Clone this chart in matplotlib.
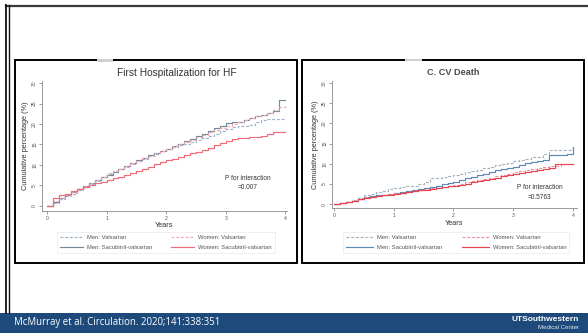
import numpy as np
import matplotlib
matplotlib.use("Agg")
import matplotlib.pyplot as plt
from matplotlib.patches import Rectangle
from matplotlib.lines import Line2D

W, H = 588, 333

# ---------------- data ----------------
years = [0.0, 0.1, 0.2, 0.3, 0.4, 0.5, 0.6, 0.7, 0.8, 0.9, 1.0,
         1.1, 1.2, 1.3, 1.4, 1.5, 1.6, 1.7, 1.8, 1.9, 2.0,
         2.1, 2.2, 2.3, 2.4, 2.5, 2.6, 2.7, 2.8, 2.9, 3.0,
         3.1, 3.2, 3.3, 3.4, 3.5, 3.6, 3.7, 3.8, 3.9, 4.0]

series_labels = ["Men: Valsartan", "Men: Sacubitril-valsartan",
                 "Women: Valsartan", "Women: Sacubitril-valsartan"]

hf_men_val = [0, 0.8, 1.6, 2.4, 3.0, 3.8, 4.6, 5.4, 6.1, 7.0, 7.8,
              8.4, 9.0, 9.6, 10.2, 10.9, 11.5, 12.1, 12.7, 13.3, 13.8,
              14.3, 14.8, 15.2, 15.6, 16.0, 16.5, 17.0, 17.6, 18.2, 18.8,
              19.3, 19.4, 19.5, 19.8, 20.4, 21.0, 21.2, 21.2, 21.2, 21.2]
hf_men_sv = [0, 0.9, 1.8, 2.6, 3.4, 4.1, 4.8, 5.5, 6.3, 7.0, 7.6,
             8.3, 9.0, 9.7, 10.4, 11.1, 11.7, 12.3, 12.8, 13.4, 14.0,
             14.6, 15.2, 15.8, 16.4, 17.0, 17.6, 18.2, 18.9, 19.6, 20.2,
             20.4, 20.5, 21.0, 21.5, 22.0, 22.3, 22.6, 23.2, 25.8, 25.8]
hf_women_val = [0, 1.2, 2.0, 2.7, 3.4, 4.1, 4.8, 5.5, 6.3, 7.0, 7.9,
                8.5, 9.1, 9.7, 10.4, 11.0, 11.6, 12.2, 12.8, 13.4, 13.9,
                14.5, 15.0, 15.6, 16.2, 16.8, 17.4, 18.0, 18.6, 19.1, 19.5,
                20.0, 20.6, 21.0, 21.4, 21.9, 22.3, 22.8, 23.5, 24.2, 24.6]
hf_women_sv = [0, 1.8, 2.6, 3.0, 3.5, 4.1, 4.6, 5.1, 5.5, 5.9, 6.3,
               6.7, 7.1, 7.5, 7.9, 8.4, 9.0, 9.6, 10.2, 10.7, 11.1,
               11.5, 11.9, 12.4, 12.8, 13.2, 13.7, 14.2, 14.8, 15.4, 15.9,
               16.3, 16.5, 16.6, 16.7, 16.9, 17.1, 17.6, 18.0, 18.0, 18.0]

cv_men_val = [0, 0.3, 0.6, 1.0, 1.5, 2.2, 2.6, 3.0, 3.4, 3.7, 4.0,
              4.2, 4.4, 4.6, 5.0, 5.5, 6.4, 6.5, 6.7, 7.0, 7.3,
              7.6, 7.9, 8.2, 8.5, 8.9, 9.2, 9.6, 9.9, 10.3, 10.6,
              11.0, 11.3, 11.6, 11.8, 12.5, 13.5, 13.5, 13.5, 13.5, 14.5]
cv_men_sv = [0, 0.3, 0.6, 0.9, 1.3, 1.7, 2.0, 2.2, 2.4, 2.6, 2.8,
             3.0, 3.3, 3.5, 3.7, 4.0, 4.3, 4.6, 5.0, 5.3, 5.6,
             6.0, 6.4, 6.8, 7.2, 7.6, 8.0, 8.4, 8.7, 9.0, 9.3,
             9.7, 10.1, 10.4, 10.7, 11.0, 12.2, 12.2, 12.3, 12.4, 14.1]
cv_women_val = [0, 0.3, 0.6, 0.9, 1.3, 1.7, 1.9, 2.1, 2.3, 2.5, 2.7,
                2.9, 3.1, 3.3, 3.5, 3.7, 3.9, 4.1, 4.3, 4.5, 4.8,
                5.1, 5.4, 5.7, 6.0, 6.2, 6.6, 6.9, 7.2, 7.6, 7.9,
                8.2, 8.5, 8.8, 9.0, 9.2, 9.4, 9.5, 9.9, 9.9, 9.9]
cv_women_sv = [0, 0.3, 0.6, 0.9, 1.2, 1.6, 1.8, 2.0, 2.2, 2.4, 2.5,
               2.8, 3.1, 3.3, 3.5, 3.6, 3.8, 4.0, 4.2, 4.4, 4.5,
               4.8, 5.1, 5.4, 5.7, 6.0, 6.3, 6.6, 6.9, 7.2, 7.4,
               7.7, 7.9, 8.2, 8.4, 8.7, 8.9, 9.9, 9.9, 9.9, 9.9]

x_ticks = [0, 1, 2, 3, 4]
y_ticks = [0, 5, 10, 15, 20, 25, 30]

panel_titles = ["First Hospitalization for HF", "C. CV Death"]
p_texts = ["P for interaction\n=0.007", "P for interaction\n=0.5763"]
footer_text = "McMurray et al. Circulation. 2020;141:338:351"

# ---------------- styles ----------------
hf_styles = [dict(color="#9db3c9", ls=(0, (2.5, 1.5))),
             dict(color="#6f8c99", ls="-"),
             dict(color="#f4a7b8", ls=(0, (2.5, 1.5))),
             dict(color="#ef6b78", ls="-")]
cv_styles = [dict(color="#a7b2bf", ls=(0, (2.5, 1.5))),
             dict(color="#5e88b5", ls="-"),
             dict(color="#f08ea2", ls=(0, (2.5, 1.5))),
             dict(color="#e8424c", ls="-")]

plt.rcParams['font.family'] = ['Liberation Sans', 'DejaVu Sans']

fig = plt.figure(figsize=(W / 100, H / 100), dpi=100)
fig.patch.set_facecolor("white")


def fx(x):
    return x / W


def fy(y):
    return 1 - y / H


def frect(x0, y0, x1, y1, **kw):
    r = Rectangle((fx(x0), fy(y1)), fx(x1) - fx(x0), fy(y0) - fy(y1),
                  transform=fig.transFigure, **kw)
    fig.add_artist(r)
    return r


def fline(xs, ys, **kw):
    fig.add_artist(Line2D([fx(v) for v in xs], [fy(v) for v in ys],
                          transform=fig.transFigure, **kw))


# slide frame
fline([6, 588], [5.5, 5.5], color="#3a3a3a", lw=1.6)
fline([6.0, 6.0], [5, 313], color="#111111", lw=1.3)
fline([8.6, 8.6], [5, 313], color="#111111", lw=1.0)

# footer
frect(0, 313, W, H, facecolor="#1d4a7b", edgecolor="none")
fig.text(fx(14), fy(323), footer_text, color="white", fontsize=6.9,
         family=["Open Sans", "DejaVu Sans"], va="center", ha="left")
fig.text(fx(579), fy(319.5), "UTSouthwestern", color="white", fontsize=6.0,
         fontweight="bold", va="center", ha="right")
fig.text(fx(579), fy(327.8), "Medical Center", color="#dfe6ef", fontsize=4.4,
         va="center", ha="right")

panels = [
    dict(box=(15, 60, 297, 263), tab=(97, 59, 113, 61.5),
         ax=(42, 81, 287, 210.7), ylim=(-1.2, 30.5), xlim=(-0.084, 4.03),
         title_xy=(177, 72.5), series=[hf_men_val, hf_men_sv, hf_women_val, hf_women_sv],
         styles=hf_styles, p_xy=(248, 183),
         leg=(57, 232), colsp=3.3, hl=3.9),
    dict(box=(302, 60, 584, 263), tab=(405, 58.5, 422, 61),
         ax=(332, 81, 577, 208.3), ylim=(-1.0, 30.5), xlim=(-0.033, 4.067),
         title_xy=(453, 72.5), series=[cv_men_val, cv_men_sv, cv_women_val, cv_women_sv],
         styles=cv_styles, p_xy=(540, 192.5),
         leg=(343, 232), colsp=3.4, hl=4.6),
]

for i, p in enumerate(panels):
    x0, y0, x1, y1 = p["box"]
    frect(x0, y0, x1, y1, facecolor="white", edgecolor="black", lw=1.4, zorder=1)
    frect(*p["tab"], facecolor="#d0d0d0", edgecolor="none", zorder=1.5)
    ax0, ay0, ax1, ay1 = p["ax"]
    ax = fig.add_axes([fx(ax0), fy(ay1), fx(ax1) - fx(ax0), fy(ay0) - fy(ay1)])
    ax.set_zorder(2)
    ax.patch.set_alpha(0)
    handles = []
    for vals, st, lab in zip(p["series"], p["styles"], series_labels):
        h, = ax.step(years, vals, where="post", color=st["color"],
                     linestyle=st["ls"], lw=0.85, label=lab)
        handles.append(h)
    ax.set_xlim(*p["xlim"])
    ax.set_ylim(*p["ylim"])
    ax.set_xticks(x_ticks)
    ax.set_yticks(y_ticks)
    ax.set_xticklabels([str(v) for v in x_ticks])
    ax.set_yticklabels([str(v) for v in y_ticks], rotation=90, va="center")
    ax.tick_params(labelsize=3.6, length=2, width=0.5, colors="#777777",
                   labelcolor="#555555", pad=1.5)
    for s in ["top", "right"]:
        ax.spines[s].set_visible(False)
    for s in ["left", "bottom"]:
        ax.spines[s].set_color("#8a8a8a")
        ax.spines[s].set_linewidth(0.6)
    ax.set_xlabel("Years", fontsize=5.3, color="#333333", labelpad=1.2)
    ax.set_ylabel("Cumulative percentage (%)", fontsize=5.3, color="#333333",
                  labelpad=2)
    fig.text(fx(p["title_xy"][0]), fy(p["title_xy"][1]), panel_titles[i],
             fontsize=7.3 if i == 0 else 6.6,
             color="#333333" if i == 0 else "#4a4a4a",
             ha="center", va="center",
             fontweight="normal" if i == 0 else "bold")
    fig.text(fx(p["p_xy"][0]), fy(p["p_xy"][1]), p_texts[i], fontsize=4.7,
             color="#333333", ha="center", va="center", linespacing=1.5)
    leg = fig.legend(handles=handles, ncol=2, loc="upper left",
                     bbox_to_anchor=(fx(p["leg"][0]), fy(p["leg"][1])),
                     fontsize=4.2, frameon=True, fancybox=False,
                     handlelength=p["hl"], handletextpad=0.7,
                     columnspacing=p["colsp"],
                     labelspacing=0.8, borderpad=0.5, borderaxespad=0,
                     labelcolor="#555555")
    leg.get_frame().set_edgecolor("#e4e4e4")
    leg.get_frame().set_linewidth(0.5)
    leg.set_zorder(3)

fig.savefig("out.png", dpi=100, facecolor="white")
